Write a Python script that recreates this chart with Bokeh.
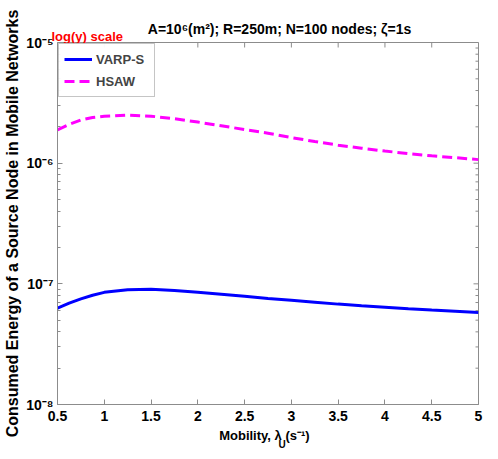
import math
from bokeh.plotting import figure
from bokeh.models import (Range1d, FixedTicker, CustomJSTickFormatter, Label, Legend, LegendItem)
from bokeh.embed import file_html
from bokeh.resources import INLINE

# ---------------- data ----------------
mobility = [0.5, 0.625, 0.75, 0.875, 1.0, 1.25, 1.5, 1.75, 2.0, 2.25, 2.5, 2.75, 3.0,
            3.25, 3.5, 3.75, 4.0, 4.25, 4.5, 4.75, 5.0]
varp_s = [6.28e-8, 6.92e-8, 7.5e-8, 8.05e-8, 8.5e-8, 8.95e-8, 9.02e-8, 8.80e-8, 8.52e-8,
          8.2e-8, 7.88e-8, 7.57e-8, 7.30e-8, 7.04e-8, 6.79e-8, 6.58e-8, 6.41e-8, 6.23e-8,
          6.07e-8, 5.92e-8, 5.78e-8]
hsaw = [1.89e-6, 2.10e-6, 2.28e-6, 2.39e-6, 2.45e-6, 2.50e-6, 2.45e-6, 2.34e-6, 2.19e-6,
        2.04e-6, 1.90e-6, 1.77e-6, 1.63e-6, 1.51e-6, 1.41e-6, 1.33e-6, 1.26e-6, 1.20e-6,
        1.15e-6, 1.11e-6, 1.07e-6]
x_ticks = [0.5, 1, 1.5, 2, 2.5, 3, 3.5, 4, 4.5, 5]
y_ticks = [1e-8, 1e-7, 1e-6, 1e-5]
y_minor = [k * 10.0 ** e for e in (-8, -7, -6) for k in range(2, 10)]

title_text = "A=10\u2076(m\u00b2); R=250m; N=100 nodes; \u03b6=1s"
ylabel_text = "Consumed Energy of a Source Node in Mobile Networks"
xlabel_text = "Mobility, \u03bb   (s\u207b\u00b9)"
xlabel_sub = "U"
note_text = "log(y) scale"

FONT = "Liberation Sans"
AXC = "#8c8c8c"
X0, X1 = 0.5, 5
Y0, Y1 = 1e-8, 1e-5

p = figure(width=498, height=459, y_axis_type="log", output_backend="svg", title=None,
           toolbar_location=None, x_range=Range1d(X0, X1), y_range=Range1d(Y0, Y1),
           min_border_left=57, min_border_right=20, min_border_top=42, min_border_bottom=55)
p.grid.visible = False
p.outline_line_color = AXC
p.background_fill_color = "white"
p.border_fill_color = "white"

l1 = p.line(mobility, varp_s, line_color="#0000ff", line_width=3)
l2 = p.line(mobility, hsaw, line_color="#ff00ff", line_width=3, line_dash="10 5")

# tick marks on the right and top edges of the box
p.ray(x=[X1] * len(y_ticks), y=y_ticks, length=5, length_units="screen", angle=math.pi,
      line_color=AXC, line_width=1)
p.ray(x=[X1] * len(y_minor), y=y_minor, length=3, length_units="screen", angle=math.pi,
      line_color=AXC, line_width=1)
p.ray(x=x_ticks, y=[Y1] * len(x_ticks), length=5, length_units="screen", angle=-math.pi / 2,
      line_color=AXC, line_width=1)

xt = FixedTicker(ticks=x_ticks)
yt = FixedTicker(ticks=y_ticks, minor_ticks=y_minor)
xfmt = CustomJSTickFormatter(code="return tick.toString();")
yfmt = CustomJSTickFormatter(code="""
const sup = {"-":"\u207b","0":"\u2070","1":"\u00b9","2":"\u00b2","3":"\u00b3","4":"\u2074",
             "5":"\u2075","6":"\u2076","7":"\u2077","8":"\u2078","9":"\u2079"};
const e = Math.round(Math.log10(tick));
return "10" + String(e).split("").map(c => sup[c]).join("");
""")

def style(ax):
    ax.axis_line_color = AXC
    ax.major_tick_line_color = AXC
    ax.minor_tick_line_color = AXC
    ax.major_tick_in = 5
    ax.major_tick_out = 0
    ax.minor_tick_in = 3
    ax.minor_tick_out = 0
    ax.major_label_text_font = FONT
    ax.major_label_text_font_style = "bold"
    ax.major_label_text_font_size = "14px"
    ax.major_label_text_color = "black"
    ax.axis_label_text_font = FONT
    ax.axis_label_text_font_style = "bold"
    ax.axis_label_text_color = "black"

p.xaxis.ticker = xt
p.xaxis.formatter = xfmt
p.yaxis.ticker = yt
p.yaxis.formatter = yfmt
for ax in p.xaxis:
    style(ax)
    ax.minor_tick_line_color = None
    ax.major_label_standoff = 6
    ax.axis_label = xlabel_text
    ax.axis_label_text_font_size = "13px"
    ax.axis_label_standoff = 4
for ax in p.yaxis:
    style(ax)
    ax.major_label_standoff = 4
    ax.axis_label = ylabel_text
    ax.axis_label_text_font_size = "16px"
    ax.axis_label_standoff = 2

legend = Legend(items=[LegendItem(label="VARP-S", renderers=[l1]),
                       LegendItem(label="HSAW", renderers=[l2])],
                location="top_left", margin=1, padding=5, spacing=2,
                glyph_width=28, glyph_height=20, label_height=20, label_width=53,
                label_standoff=4, border_line_color=AXC, border_line_width=1,
                label_text_font=FONT, label_text_font_style="bold",
                label_text_font_size="13px")
p.add_layout(legend)

def lab(place, text, x, y, size="14px", align="left", color="black", baseline="alphabetic"):
    p.add_layout(Label(text=text, x=x, y=y, x_units="screen", y_units="screen",
                       text_font=FONT, text_font_style="bold", text_font_size=size,
                       text_align=align, text_color=color, text_baseline=baseline), place)

# subscript of lambda in the x-axis label
lab("below", xlabel_sub, 221, 12, size="10px")
# red note and title above the frame
lab("above", note_text, -6, 6, size="13px", color="red")
lab("above", title_text, 222, -1, align="center")

open("out.html", "w").write(file_html(p, INLINE))
